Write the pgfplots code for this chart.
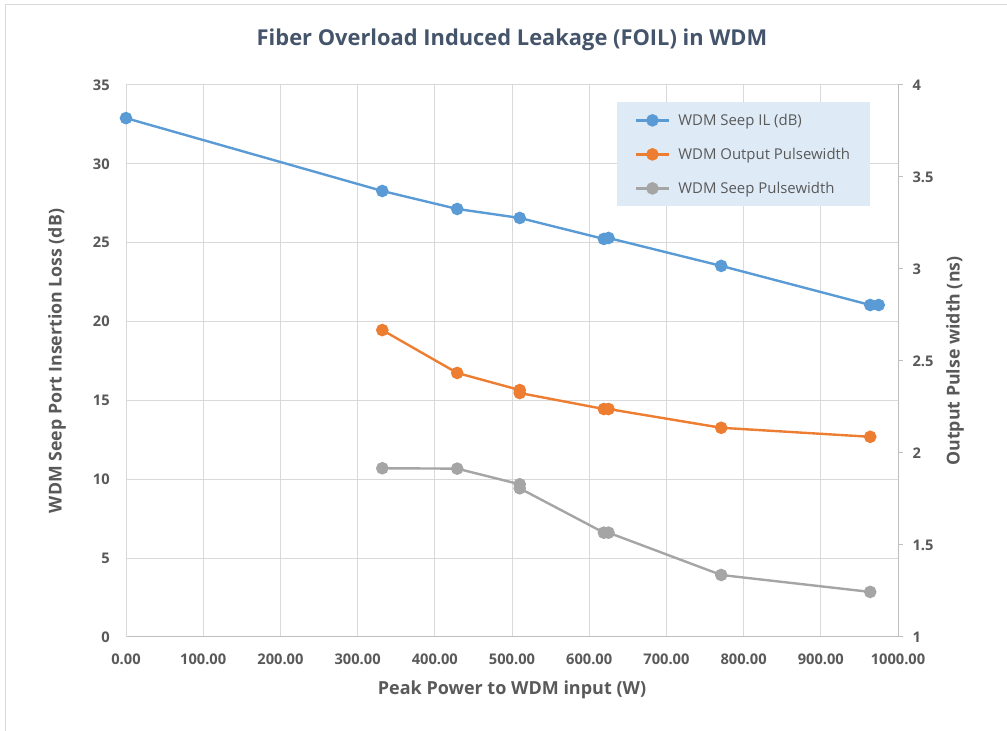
\documentclass[border=0pt]{standalone}
\usepackage{pgfplots}
\pgfplotsset{compat=1.18}
\usepackage{fontspec}
\setmainfont{Open Sans}
\definecolor{sblue}{RGB}{91,155,213}
\definecolor{sorange}{RGB}{237,125,49}
\definecolor{sgray}{RGB}{165,165,165}
\definecolor{titlec}{RGB}{68,84,106}
\definecolor{txt}{RGB}{89,89,89}
\definecolor{gridc}{RGB}{217,217,217}
\definecolor{axc}{RGB}{191,191,191}
\definecolor{legbg}{RGB}{222,235,247}
\begin{document}
\begin{tikzpicture}
\useasboundingbox (0pt,0pt) rectangle (755.25pt,548.25pt);
\draw[gridc, line width=0.75pt] (3.75pt,0pt) -- (3.75pt,544.5pt) -- (755.25pt,544.5pt);
\begin{axis}[
  at={(94.5pt,70.5pt)}, anchor=south west,
  scale only axis, width=579pt, height=414pt,
  xmin=0, xmax=1000, ymin=0, ymax=35,
  xtick={0,100,...,1000}, ytick={0,5,...,35},
  grid=major, major grid style={gridc, line width=0.75pt},
  major tick length=0pt,
  axis x line*=bottom, axis y line*=left,
  x axis line style={axc, line width=0.75pt, -},
  y axis line style={gridc, line width=0.75pt, -},
  /pgf/number format/assume math mode=true,
  x tick label style={font=\fontsize{11}{13}\selectfont\bfseries, text=txt, anchor=north, inner sep=0pt, yshift=-12.5pt,
     /pgf/number format/fixed, /pgf/number format/fixed zerofill, /pgf/number format/precision=2, /pgf/number format/1000 sep={}},
  y tick label style={font=\fontsize{11}{13}\selectfont\bfseries, text=txt, anchor=east, inner sep=0pt, xshift=-12pt},
  xlabel={Peak Power to WDM input (W)},
  ylabel={WDM Seep Port Insertion Loss (dB)},
  xlabel style={font=\fontsize{13.5}{16}\selectfont\bfseries, text=txt, at={(axis description cs:0.5,-0.096)}, anchor=center},
  ylabel style={font=\fontsize{13.3}{16}\selectfont\bfseries, text=txt, at={(axis description cs:-0.0894,0.5)}, anchor=center},
  title={Fiber Overload Induced Leakage (FOIL) in WDM},
  title style={font=\fontsize{16.4}{19}\selectfont\bfseries, text=titlec, at={(axis description cs:0.5,1.067)}, anchor=center},
  clip=false,
]
\addplot[sblue, line width=1.8pt, mark=*, mark size=3.8pt, mark options={solid, fill=sblue, draw=sblue}] coordinates {
(0,32.9) (332,28.28) (429,27.14) (510,26.57) (619,25.24) (625,25.3) (771,23.53) (964,21.05) (975,21.05)};
\end{axis}
\begin{axis}[
  at={(94.5pt,70.5pt)}, anchor=south west,
  scale only axis, width=579pt, height=414pt,
  xmin=0, xmax=1000, ymin=1, ymax=4,
  ytick={1,1.5,...,4},
  axis x line=none, axis y line*=right,
  y axis line style={axc, line width=0.75pt, -},
  ytick style={axc, line width=0.75pt},
  major tick length=3.75pt, tick align=outside,
  /pgf/number format/assume math mode=true,
  y tick label style={font=\fontsize{11}{13}\selectfont\bfseries, text=txt, anchor=west, inner sep=0pt, xshift=7pt},
  ylabel={Output Pulse width (ns)},
  ylabel style={font=\fontsize{13.3}{16}\selectfont\bfseries, text=txt, at={(axis description cs:1.0738,0.5)}, anchor=center},
  legend style={at={(axis description cs:0.636,0.969)}, anchor=north west, fill=legbg, draw=none,
     font=\fontsize{11.2}{13}\selectfont, text=txt, inner xsep=13pt, inner ysep=6.5pt, row sep=11.5pt},
  legend cell align=left,
  legend image code/.code={\draw[mark repeat=2,mark phase=2,#1] plot coordinates {(0pt,0pt) (12.5pt,0pt) (25pt,0pt)}; \path (29pt,0pt);},
  clip=false,
]
\addlegendimage{sblue, line width=1.8pt, mark=*, mark size=3.8pt, mark options={solid, fill=sblue, draw=sblue}}
\addlegendentry{WDM Seep IL (dB)}
\addplot[sorange, line width=1.8pt, mark=*, mark size=3.8pt, mark options={solid, fill=sorange, draw=sorange}] coordinates {
(332,2.668) (429,2.435) (510,2.342) (510,2.326) (619,2.239) (625,2.239) (771,2.137) (964,2.088)};
\addlegendentry{WDM Output Pulsewidth}
\addplot[sgray, line width=1.8pt, mark=*, mark size=3.8pt, mark options={solid, fill=sgray, draw=sgray}] coordinates {
(332,1.917) (429,1.915) (510,1.830) (510,1.808) (619,1.567) (625,1.567) (771,1.337) (964,1.245)};
\addlegendentry{WDM Seep Pulsewidth}
\end{axis}
\end{tikzpicture}
\end{document}
